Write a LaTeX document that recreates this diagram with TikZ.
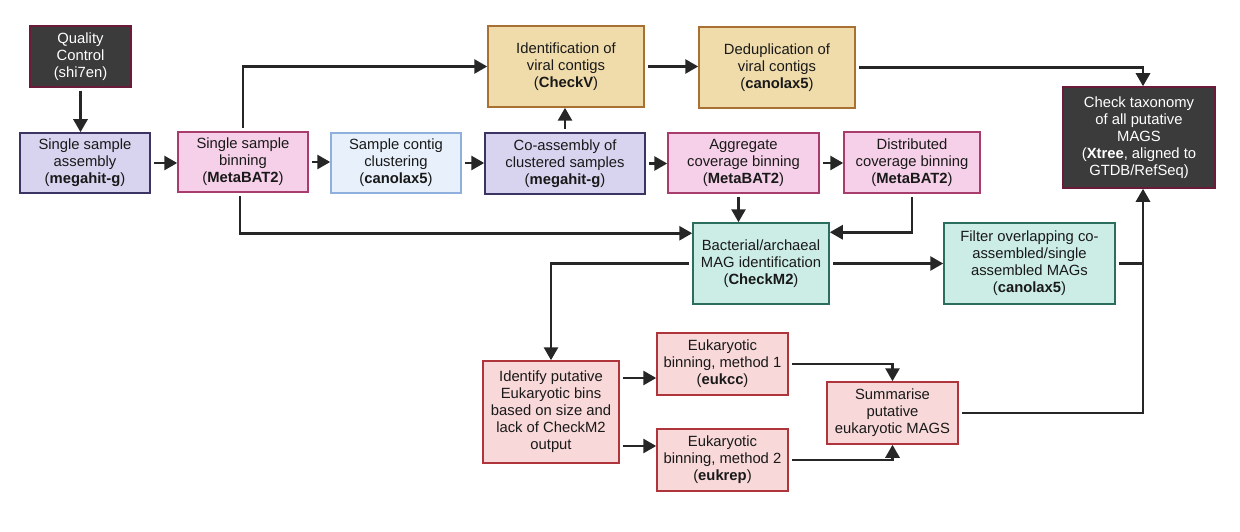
\documentclass[tikz,border=0pt]{standalone}
\usepackage{fontspec}
\setmainfont{Liberation Sans}
\usetikzlibrary{arrows.meta}
\definecolor{qcfill}{HTML}{3B3B3B}
\definecolor{qcdraw}{HTML}{6A1B3A}
\definecolor{asmfill}{HTML}{D8D4F0}
\definecolor{asmdraw}{HTML}{3A3562}
\definecolor{binfill}{HTML}{F6D0E8}
\definecolor{bindraw}{HTML}{A83C6C}
\definecolor{clufill}{HTML}{E8F1FB}
\definecolor{cludraw}{HTML}{8FB0DC}
\definecolor{virfill}{HTML}{F0DCAB}
\definecolor{virdraw}{HTML}{A87032}
\definecolor{magfill}{HTML}{CCEDE6}
\definecolor{magdraw}{HTML}{2B6E5E}
\definecolor{eukfill}{HTML}{F8D8D8}
\definecolor{eukdraw}{HTML}{B0343C}
\definecolor{flowc}{HTML}{262626}
\tikzset{box/.style={draw, line width=1.5pt, align=center, inner sep=1pt, text=black!90, font=\fontsize{14.8}{17}\selectfont},
	qcbox/.style={box, fill=qcfill, draw=qcdraw, text=white},
	asmbox/.style={box, fill=asmfill, draw=asmdraw},
	binbox/.style={box, fill=binfill, draw=bindraw},
	clubox/.style={box, fill=clufill, draw=cludraw},
	virbox/.style={box, fill=virfill, draw=virdraw},
	magbox/.style={box, fill=magfill, draw=magdraw},
	eukbox/.style={box, fill=eukfill, draw=eukdraw},
	flow/.style={line width=2.8pt, color=flowc, line join=miter, -{Triangle[length=13pt,width=14pt]}, shorten <=3pt}}

\begin{document}
\begin{tikzpicture}[x=1pt, y=-1pt]
		\useasboundingbox (0,0) rectangle (1240,532);
		\node[qcbox, minimum width=101pt, minimum height=61pt] (qc) at (80.5,56.5) {Quality\\Control\\(shi7en)};
		\node[asmbox, minimum width=130pt, minimum height=60pt] (sasm) at (85,163) {Single sample\\assembly\\(\textbf{megahit-g})};
		\node[binbox, minimum width=130pt, minimum height=60pt] (sbin) at (243,162) {Single sample\\binning\\(\textbf{MetaBAT2})};
		\node[clubox, minimum width=130pt, minimum height=60pt] (clus) at (396,163) {Sample contig\\clustering\\(\textbf{canolax5})};
		\node[asmbox, minimum width=160pt, minimum height=61pt] (coasm) at (565,163.5) {Co-assembly of\\clustered samples\\(\textbf{megahit-g})};
		\node[virbox, minimum width=156pt, minimum height=81pt] (virid) at (566,66.5) {Identification of\\viral contigs\\(\textbf{CheckV})};
		\node[virbox, minimum width=156pt, minimum height=81pt] (dedup) at (777,67.5) {Deduplication of\\viral contigs\\(\textbf{canolax5})};
		\node[binbox, minimum width=151pt, minimum height=60pt] (aggbin) at (743.5,163) {Aggregate\\coverage binning\\(\textbf{MetaBAT2})};
		\node[binbox, minimum width=136pt, minimum height=61pt] (distbin) at (912,162.5) {Distributed\\coverage binning\\(\textbf{MetaBAT2})};
		\node[qcbox, minimum width=152pt, minimum height=101pt] (taxo) at (1139,137.5) {Check taxonomy\\of all putative\\MAGS\\(\textbf{Xtree}, aligned to\\GTDB/RefSeq)};
		\node[magbox, minimum width=136pt, minimum height=81pt] (bact) at (761,263.5) {Bacterial/archaeal\\MAG identification\\(\textbf{CheckM2})};
		\node[magbox, minimum width=171pt, minimum height=81pt] (filt) at (1029.5,263.5) {Filter overlapping co-\\assembled/single\\assembled MAGs\\(\textbf{canolax5})};
		\node[eukbox, minimum width=136pt, minimum height=102pt] (ident) at (551,412) {Identify putative\\Eukaryotic bins\\based on size and\\lack of CheckM2\\output};
		\node[eukbox, minimum width=131pt, minimum height=62pt] (euka) at (722.5,364) {Eukaryotic\\binning, method 1\\(\textbf{eukcc})};
		\node[eukbox, minimum width=131pt, minimum height=62pt] (eukb) at (722.5,460) {Eukaryotic\\binning, method 2\\(\textbf{eukrep})};
		\node[eukbox, minimum width=131pt, minimum height=62pt] (summ) at (892.5,413) {Summarise\\putative\\eukaryotic MAGS};
		\foreach \a/\b in {sasm/sbin, sbin/clus, clus/coasm, coasm/aggbin, aggbin/distbin, virid/dedup, bact/filt} {
			\draw[flow] (\a.east) -- (\a.east -| \b.west);
		}
		\draw[flow] (qc.south) -- (qc.south |- sasm.north);
		\draw[flow] (coasm.north) -- (coasm.north |- virid.south);
		\draw[flow] (sbin.north) |- (virid.west);
		\draw[flow] ([xshift=-3pt]sbin.south) |- ([yshift=-11pt]bact.north west);
		\draw[flow] (dedup.east) -| ([xshift=4pt]taxo.north);
		\draw[flow] ([xshift=-5pt]aggbin.south) -- ([xshift=-5pt]aggbin.south |- bact.north);
		\draw[flow] (distbin.south) |- ([yshift=-10pt]bact.north east);
		\draw[line width=2.8pt, color=flowc, shorten <=3pt] (filt.east) -- ([xshift=4pt]filt.east -| taxo.south);
		\draw[flow] (summ.east) -| ([xshift=4pt]taxo.south);
		\draw[flow] (bact.west) -| (ident.north);
		\draw[flow] ([yshift=34pt]ident.east) -- ([yshift=34pt]ident.east -| euka.west);
		\draw[flow] ([yshift=-34pt]ident.east) -- ([yshift=-34pt]ident.east -| eukb.west);
		\draw[flow] (euka.east) -| (summ.north);
		\draw[flow] (eukb.east) -| (summ.south);
	\end{tikzpicture}
\end{document}
